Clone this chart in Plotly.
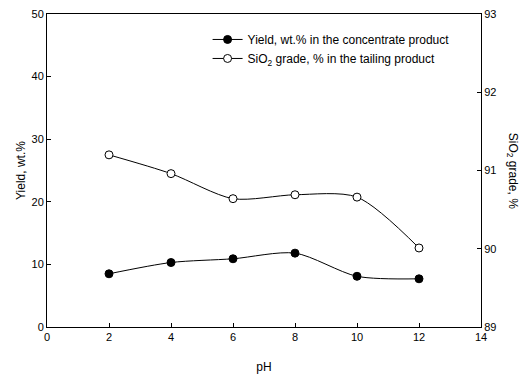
import plotly.graph_objects as go

ph = [2, 4, 6, 8, 10, 12]
yield_wt = [8.5, 10.3, 10.9, 11.8, 8.1, 7.7]
sio2_grade = [91.2, 90.96, 90.64, 90.69, 90.66, 90.01]

FONT = "Liberation Sans, Arial, sans-serif"

fig = go.Figure()
fig.add_trace(go.Scatter(
    x=ph, y=yield_wt, mode="lines+markers",
    name="Yield, wt.% in the concentrate product",
    line=dict(color="black", width=1, shape="spline", smoothing=0.8),
    marker=dict(symbol="circle", size=8, color="black", line=dict(color="black", width=1)),
))
fig.add_trace(go.Scatter(
    x=ph, y=sio2_grade, mode="lines+markers", yaxis="y2",
    name="SiO<sub>2</sub> grade, % in the tailing product",
    line=dict(color="black", width=1, shape="spline", smoothing=0.8),
    marker=dict(symbol="circle", size=8, color="white", line=dict(color="black", width=1)),
))

axis_common = dict(
    showgrid=False, zeroline=False, showline=True, linecolor="black", linewidth=1,
    ticks="inside", ticklen=4, tickcolor="black", automargin=False,
    tickfont=dict(family=FONT, size=11, color="black"),
)

fig.update_layout(
    width=520, height=376,
    margin=dict(l=47, r=39, t=14, b=49),
    paper_bgcolor="white", plot_bgcolor="white",
    font=dict(family=FONT, color="black"),
    showlegend=True,
    legend=dict(
        x=0.37, y=0.965, xanchor="left", yanchor="top",
        bgcolor="rgba(0,0,0,0)", font=dict(family=FONT, size=12, color="black"),
        tracegroupgap=0, itemwidth=30,
    ),
    xaxis=dict(
        range=[0, 14], dtick=2, tick0=0, mirror=True,
        title=dict(text="pH", font=dict(family=FONT, size=12, color="black"), standoff=20),
        **axis_common,
    ),
    yaxis=dict(
        range=[0, 50], dtick=10,
        title=dict(text="Yield, wt.%", font=dict(family=FONT, size=12, color="black"), standoff=3),
        **axis_common,
    ),
    yaxis2=dict(
        range=[89, 93], dtick=1, overlaying="y", side="right",
        **axis_common,
    ),
    annotations=[dict(
        text="SiO<sub>2</sub> grade, %", textangle=90, xref="paper", yref="paper",
        x=1.073, y=0.5, xanchor="center", yanchor="middle", showarrow=False,
        font=dict(family=FONT, size=12, color="black"),
    )],
)

fig.write_html("out.html")
